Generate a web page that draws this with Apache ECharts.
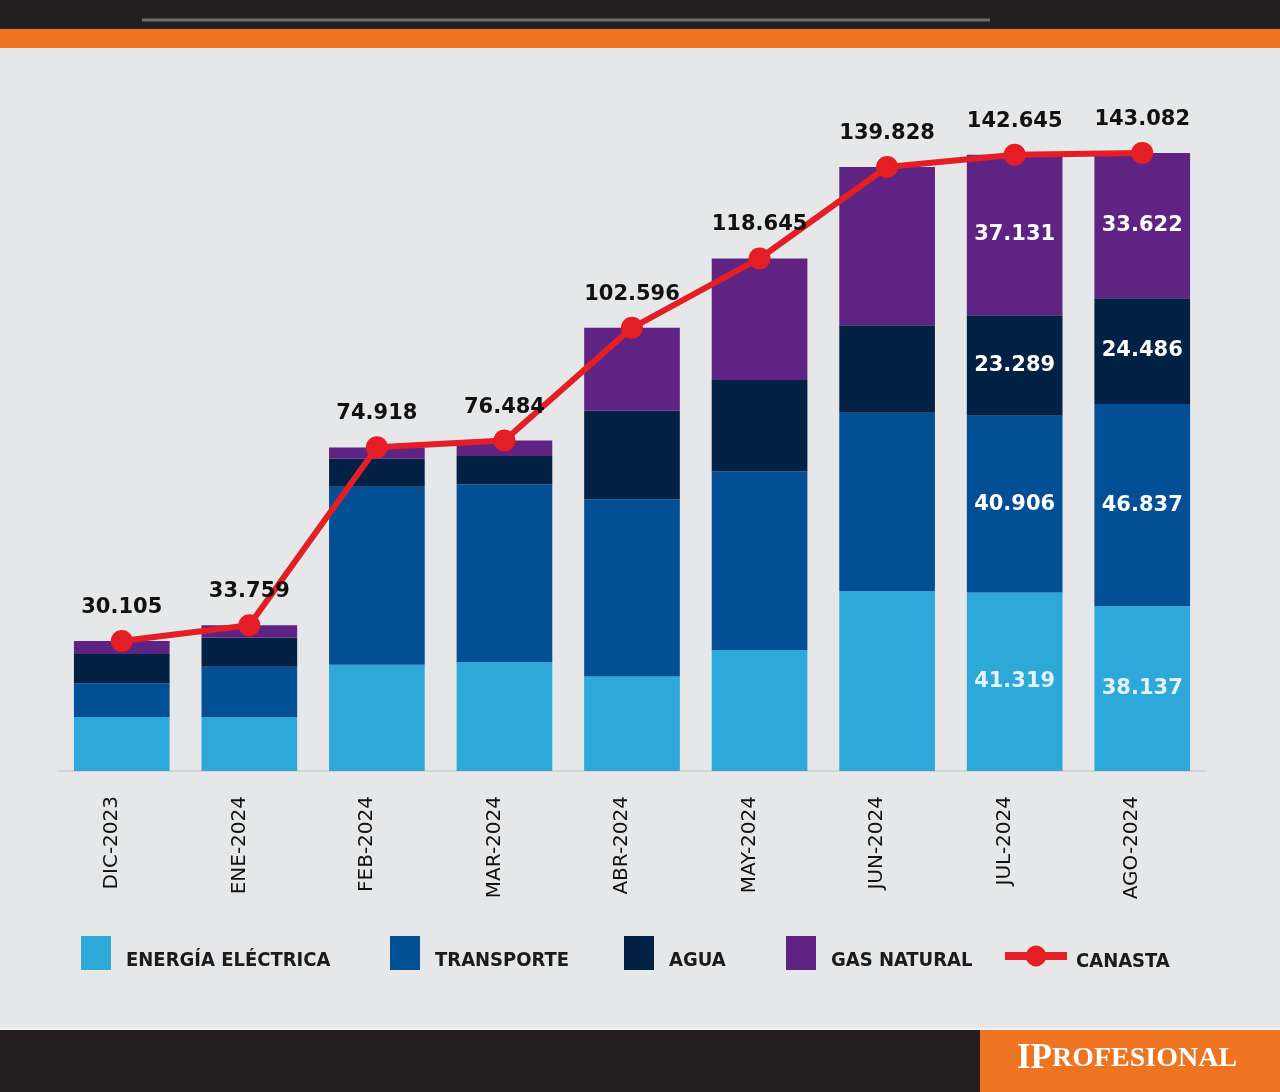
<!DOCTYPE html>
<html>
<head>
<meta charset="utf-8">
<title>Canasta de servicios públicos</title>
<script src="https://cdn.jsdelivr.net/npm/echarts@6/dist/echarts.min.js"></script>
<style>
  html, body { margin: 0; padding: 0; background: #e6e7e8; }
  #chart { width: 1280px; height: 1092px; }
</style>
</head>
<body>
<div id="chart"></div>
<script>
// meses
var months = ['DIC-2023', 'ENE-2024', 'FEB-2024', 'MAR-2024', 'ABR-2024', 'MAY-2024', 'JUN-2024', 'JUL-2024', 'AGO-2024'];

// componentes de la canasta (miles de pesos)
var energia    = [12.5, 12.45, 24.6, 25.2, 21.9, 28.0, 41.6, 41.319, 38.137];
var transporte = [7.8, 11.7, 41.2, 41.1, 41.0, 41.3, 41.3, 40.906, 46.837];
var agua       = [6.8, 6.7, 6.5, 6.6, 20.5, 21.2, 20.3, 23.289, 24.486];
var gas        = [3.0, 2.9, 2.6, 3.6, 19.2, 28.15, 36.6, 37.131, 33.622];
var canasta    = [30.105, 33.759, 74.918, 76.484, 102.596, 118.645, 139.828, 142.645, 143.082];

// solo estos meses llevan el valor dentro de la barra
var labeledMonths = ['JUL-2024', 'AGO-2024'];

var names = ['ENERGÍA ELÉCTRICA', 'TRANSPORTE', 'AGUA', 'GAS NATURAL', 'CANASTA'];
var colors = ['#2ea8d8', '#034f96', '#022145', '#5f2483', '#e31e24'];

function fmt(v) { return v.toFixed(3); }

function innerLabel(color) {
    return {
        show: true,
        position: 'inside',
        color: color,
        fontFamily: 'DejaVu Sans',
        fontWeight: 'bold',
        fontSize: 21,
        formatter: function (p) {
            return labeledMonths.indexOf(p.name) >= 0 ? fmt(p.value) : '';
        }
    };
}

function barSeries(i, data, labelColor) {
    return {
        name: names[i],
        type: 'bar',
        stack: 'canasta',
        data: data,
        barCategoryGap: '25%',
        itemStyle: { color: colors[i] },
        label: innerLabel(labelColor)
    };
}

var legendFont = {
    fontFamily: '"DejaVu Sans Condensed", "DejaVu Sans"',
    fontWeight: 'bold',
    fontSize: 20,
    color: '#1b1b1b'
};

var legendX = [81, 390, 624, 786, 1001];
var legends = names.map(function (n, i) {
    var isLine = i === 4;
    var lg = {
        data: [n],
        left: legendX[i],
        top: isLine ? 945 : 936,
        padding: 0,
        itemWidth: isLine ? 62 : 30,
        itemHeight: isLine ? 26 : 34,
        selectedMode: false,
        textStyle: {
            padding: [0, 0, 0, isLine ? 4 : 10],
            rich: {
                s: { fontSize: 2, lineHeight: isLine ? 12 : 16 },
                t: legendFont
            }
        },
        formatter: function (name) { return '{s| }\n{t|' + name + '}'; }
    };
    if (isLine) {
        lg.lineStyle = { width: 8 };
    } else {
        lg.icon = 'rect';
    }
    return lg;
});

var chart = echarts.init(document.getElementById('chart'));
chart.setOption({
    backgroundColor: '#e6e7e8',
    animation: false,
    graphic: [
        { type: 'rect', shape: { x: 0, y: 0, width: 1280, height: 29 }, style: { fill: '#231f20' } },
        { type: 'line', shape: { x1: 142, y1: 20, x2: 990, y2: 20 }, style: { stroke: '#6d6d6d', lineWidth: 3 } },
        { type: 'rect', shape: { x: 0, y: 29, width: 1280, height: 19 }, style: { fill: '#ee7421' } },
        { type: 'rect', shape: { x: 0, y: 1028, width: 1280, height: 2 }, style: { fill: '#f4f4f4' } },
        { type: 'rect', shape: { x: 0, y: 1030, width: 980, height: 62 }, style: { fill: '#231f20' } },
        { type: 'rect', shape: { x: 980, y: 1030, width: 300, height: 62 }, style: { fill: '#ee7421' } },
        {
            type: 'text', x: 1127, y: 1059,
            style: {
                text: '{a|IP}{b|ROFESIONAL}',
                align: 'center', verticalAlign: 'middle',
                rich: {
                    a: { fontFamily: 'Liberation Serif', fontWeight: 'bold', fontSize: 35, fill: '#fff', color: '#fff' },
                    b: { fontFamily: 'Liberation Serif', fontWeight: 'bold', fontSize: 28, fill: '#fff', color: '#fff' }
                }
            }
        }
    ],
    legend: legends,
    grid: { left: 58, right: 74, top: 123, bottom: 321 },
    xAxis: {
        type: 'category',
        data: months,
        axisLine: { show: true, lineStyle: { color: '#d3d4d6', width: 2 } },
        axisTick: { show: false },
        axisLabel: {
            rotate: 90,
            margin: 25,
            verticalAlign: 'bottom',
            fontFamily: 'DejaVu Sans',
            fontSize: 20,
            color: '#111'
        }
    },
    yAxis: {
        type: 'value',
        min: 0,
        max: 150,
        show: false,
        splitLine: { show: false }
    },
    series: [
        barSeries(0, energia, '#e2f3fa'),
        barSeries(1, transporte, '#ffffff'),
        barSeries(2, agua, '#ffffff'),
        barSeries(3, gas, '#ffffff'),
        {
            name: names[4],
            type: 'line',
            data: canasta,
            z: 10,
            symbol: 'circle',
            symbolSize: 22,
            itemStyle: { color: colors[4] },
            lineStyle: { color: colors[4], width: 6 },
            label: {
                show: true,
                position: 'top',
                distance: 12,
                color: '#111',
                fontFamily: 'DejaVu Sans',
                fontWeight: 'bold',
                fontSize: 21,
                formatter: function (p) { return fmt(p.value); }
            }
        }
    ]
});
</script>
</body>
</html>
